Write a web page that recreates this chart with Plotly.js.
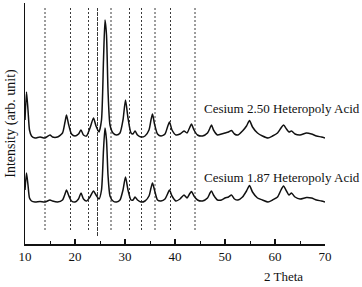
<!DOCTYPE html>
<html>
<head>
<meta charset="utf-8">
<script src="https://cdn.plot.ly/plotly-3.0.1.min.js"></script>
<style>html,body{margin:0;padding:0;background:#fff;}#chart{width:362px;height:287px;}</style>
</head>
<body>
<div id="chart"></div>
<script>
// 2 Theta positions
var theta = [10.0,10.3,10.6,10.9,11.3,12,13,14,15,15.5,16.5,17.5,18.0,18.3,18.7,19.3,20,20.7,21.2,21.7,22.3,23.0,23.7,24.2,24.8,25.3,25.7,26.0,26.3,26.6,27.0,27.6,28.3,29.0,29.6,30.1,30.6,31.2,31.6,32.0,32.5,33.2,34.0,34.8,35.2,35.5,35.9,36.5,37.2,38.0,38.5,38.9,39.4,40.2,41.0,41.8,42.4,42.9,43.3,43.8,44.5,45.5,46.5,47.0,47.3,47.7,48.5,49.3,50.0,50.7,51.3,51.9,52.6,53.5,54.3,54.9,55.5,56.5,57.5,58.6,59.5,60.5,61.2,61.7,62.3,62.8,63.3,64.0,65.0,66.3,67.3,68.3,69.3,70.0];
// Cesium 2.50 Heteropoly Acid (offset trace)
var cs250 = [124,152,134,114,108,106,107,106,109,107,107,111,122,129,120,110,108,110,114,109,108,116,126,118,112,124,184,224,209,154,119,111,109,111,124,144,126,111,110,113,109,107,108,114,124,130,120,110,108,110,117,122,114,109,110,113,111,116,120,114,109,108,111,116,119,114,109,110,111,112,113.5,110,109,113,118,123.5,117,111,108,106,108,111,116,119,115,112,113,110,109,111,110,108,107,106];
// Cesium 1.87 Heteropoly Acid
var cs187 = [54,71,59,46,43,42,42.5,42,44,43,42,44,50,54,49,43,42,45,51,45,43,47,53,49,45,54,94,116,104,69,48,43,42,44,54,67,54,44,44,47,44,42,43,48,56,61,54,44,43,45,50,54,48,43,45,49,46,50,52.5,48,44,43,46,51,53,49,44,44,46,47,49,45,44,47,53,58.5,52,46,44,42,44,47,54,58,53,49,51,47,45,46.5,46,44,43,42];
// reference peak positions (dashed lines)
var refPeaks = [14.0,19.1,22.7,24.5,27.2,30.9,33.3,36.0,39.1,44.0];
var xTicks = [10,20,30,40,50,60,70];
var seriesNames = ['Cesium 2.50 Heteropoly Acid','Cesium 1.87 Heteropoly Acid'];

var FONT = 'Liberation Serif, Times New Roman, serif';

var shapes = refPeaks.map(function(p){
  var solidish = Math.abs(p-24.5) < 0.01;
  return {type:'line', xref:'x', yref:'y', x0:p, x1:p, y0: solidish ? 8 : 14, y1:236,
    line:{color:'#3a3a3a', width:1, dash: solidish ? '4px,1px' : '2px,2px'}, layer:'below'};
});

var traces = [
  {x:theta, y:cs250, mode:'lines', line:{color:'#111', width:1.5, shape:'spline', smoothing:0.6}, name:seriesNames[0], hoverinfo:'skip'},
  {x:theta, y:cs187, mode:'lines', line:{color:'#111', width:1.5, shape:'spline', smoothing:0.6}, name:seriesNames[1], hoverinfo:'skip'}
];

var layout = {
  width:362, height:287,
  margin:{l:25, r:37, t:3, b:43},
  paper_bgcolor:'#fff', plot_bgcolor:'#fff',
  showlegend:false,
  font:{family:FONT, color:'#111', size:13},
  xaxis:{range:[10,70], tickvals:xTicks, ticktext:xTicks.map(String), ticks:'inside', ticklen:5, tickwidth:1.2, tickcolor:'#111',
    minor:{dtick:5, ticks:'inside', ticklen:3, tickwidth:1, tickcolor:'#111', showgrid:false},
    showline:true, linecolor:'#111', linewidth:1.5, showgrid:false, zeroline:false,
    tickfont:{family:FONT, size:13, color:'#111'}, fixedrange:true},
  yaxis:{range:[0,241], showticklabels:false, ticks:'', showline:true, linecolor:'#111', linewidth:1.5, showgrid:false, zeroline:false,
    title:{text:'Intensity (arb. unit)', font:{family:FONT, size:14, color:'#111'}, standoff:4}, fixedrange:true},
  shapes:shapes,
  annotations:[
    {xref:'paper', yref:'paper', x:0.86, y:-0.135, xanchor:'center', yanchor:'middle', text:'2 Theta', showarrow:false, font:{family:FONT, size:13, color:'#111'}},
    {xref:'x', yref:'y', x:45.3, y:136, xanchor:'left', yanchor:'middle', text:seriesNames[0], showarrow:false, font:{family:FONT, size:13, color:'#111'}},
    {xref:'x', yref:'y', x:45.3, y:67, xanchor:'left', yanchor:'middle', text:seriesNames[1], showarrow:false, font:{family:FONT, size:13, color:'#111'}}
  ]
};

Plotly.newPlot('chart', traces, layout, {staticPlot:true, displayModeBar:false});
</script>
</body>
</html>
